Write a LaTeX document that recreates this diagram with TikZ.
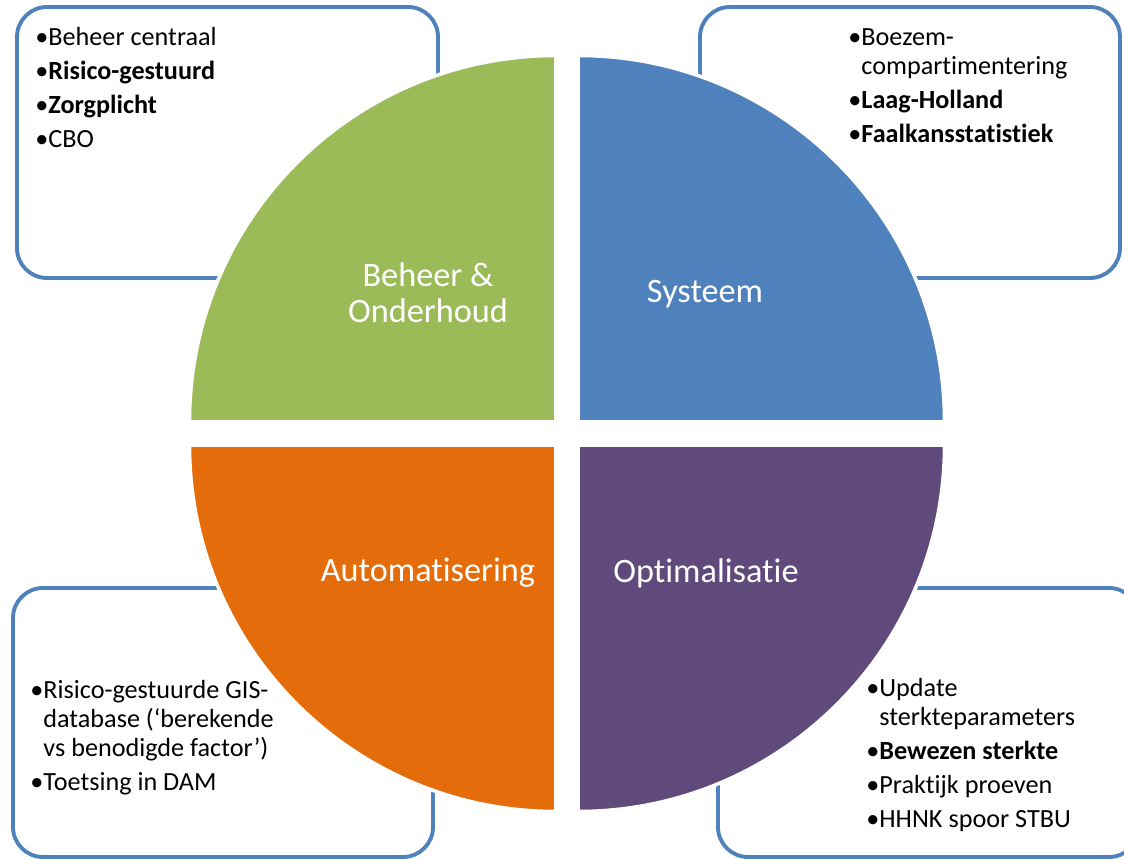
\documentclass[tikz,border=0pt]{standalone}
\usepackage{fontspec}
\setmainfont{Carlito}[Ligatures={NoCommon}]

\definecolor{beheergreen}{HTML}{9BBB59}
\definecolor{systeemblue}{HTML}{4F81BD}
\definecolor{automorange}{HTML}{E46C0A}
\definecolor{optipurple}{HTML}{604A7B}

\newcommand{\bul}{\makebox[0.5em][l]{\textbullet}}
\newcommand{\ind}{\hspace*{0.5em}}

\begin{document}
\begin{tikzpicture}[
   infobox/.style={draw=systeemblue, line width=2.2pt, rounded corners=0.6cm, fill=white},
   quarter/.style={draw=white, line width=2pt},
   quartertext/.style={text=white, align=center, font=\fontsize{19.5}{20.5}\selectfont},
   bullets/.style={anchor=north west, inner sep=0pt, align=left, font=\fontsize{14.9}{16.5}\selectfont}
]
   %\draw[step=1cm,gray,very thin] (0,0) grid (22.48,17.2);
   \clip (0,0) rectangle (22.48,17.2);

   % boxes behind the circle
   \draw[infobox] (0.34,11.64) rectangle (8.76,17.06);
   \draw[infobox] (14.0,11.64) rectangle (22.4,17.06);
   \draw[infobox] (0.26,0.06) rectangle (8.66,5.44);
   \draw[infobox] (14.36,0.06) rectangle (22.78,5.44);

   % four quarters
   \filldraw[quarter, fill=beheergreen] (11.12,8.76) -- (3.79,8.76) arc (180:90:7.33) -- cycle;
   \filldraw[quarter, fill=systeemblue] (11.56,8.76) -- (11.56,16.09) arc (90:0:7.33) -- cycle;
   \filldraw[quarter, fill=automorange] (11.12,8.30) -- (3.79,8.30) arc (180:270:7.33) -- cycle;
   \filldraw[quarter, fill=optipurple] (11.56,8.30) -- (11.56,0.97) arc (270:360:7.33) -- cycle;

   \node[quartertext] (beheer) at (8.56,11.34) {Beheer \&\\Onderhoud};
   \node[quartertext] (systeem) at (14.1,11.32) {Systeem};
   \node[quartertext] (automatisering) at (8.56,5.74) {Automatisering};
   \node[quartertext] (optimalisatie) at (14.12,5.74) {Optimalisatie};

   \node[bullets] (beheerlist) at (0.70,16.66) {\bul Beheer centraal\\[2.85pt]
      \bul\textbf{Risico-gestuurd}\\[2.85pt]
      \bul\textbf{Zorgplicht}\\[2.85pt]
      \bul CBO};
   \node[bullets] (systeemlist) at (16.96,16.64) {\bul Boezem-\\
      \ind compartimentering\\[2.85pt]
      \bul\textbf{Laag-Holland}\\[2.85pt]
      \bul\textbf{Faalkansstatistiek}};
   \node[bullets] (automlist) at (0.60,3.60) {\bul Risico-gestuurde GIS-\\
      \ind database (‘berekende\\
      \ind vs benodigde factor’)\\[2.85pt]
      \bul Toetsing in DAM};
   \node[bullets] (optilist) at (17.32,3.64) {\bul Update\\
      \ind sterkteparameters\\[2.85pt]
      \bul\textbf{Bewezen sterkte}\\[2.85pt]
      \bul Praktijk proeven\\[2.85pt]
      \bul HHNK spoor STBU};
\end{tikzpicture}
\end{document}
